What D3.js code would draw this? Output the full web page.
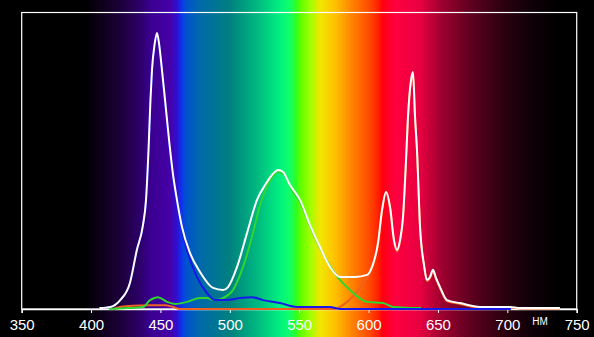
<!DOCTYPE html>
<html>
<head>
<meta charset="utf-8">
<script src="https://cdn.jsdelivr.net/npm/d3@7"></script>
<style>
  html, body { margin: 0; padding: 0; background: #000; }
  svg { display: block; }
</style>
</head>
<body>
<div id="chart"></div>
<script>
// tick labels on the wavelength axis
var tickValues = [350, 400, 450, 500, 550, 600, 650, 700, 750];
var unitLabel = "НМ";

// background spectrum: wavelength (nm) -> colour
var spectrumNm = [334, 396, 406, 421, 435, 443, 457, 462, 465, 468, 479, 500, 522, 536, 543, 548, 551, 558, 565, 576, 587, 601, 607, 610, 619, 637, 652, 673, 695, 716, 738, 763];
var spectrumColor = ["#000000", "#000000", "#0c0018", "#1c0038", "#2c0068", "#3a0090", "#4600a8", "#3010d0", "#1030f0", "#0050d0", "#006aa8", "#00807f", "#00c080", "#00f080", "#10ff68", "#30ff20", "#60ff00", "#a0ff00", "#f0e800", "#ffc000", "#ff8800", "#ff4800", "#ff2000", "#ff0010", "#ff0040", "#e80040", "#a00030", "#600020", "#300010", "#100008", "#000000", "#000000"];

// spectral curves: [wavelength nm, relative intensity]
var whiteCurve = [[406, 0.3], [414, 0.7], [421, 3.0], [428, 8.8], [433, 19.9], [437.4, 28.3], [439.6, 36.8], [441.4, 53.6], [442.8, 70.5], [443.9, 80.6], [445.7, 89.0], [447.5, 93.1], [449.0, 89.5], [451.1, 80.6], [453.3, 70.5], [456.2, 57.0], [459.1, 45.2], [461.9, 36.8], [465.5, 27.7], [471.3, 18.9], [478.5, 12.5], [487.9, 7.1], [495.1, 6.4], [498.7, 7.4], [505.2, 14.2], [512.4, 25.6], [519.6, 36.8], [525.4, 41.8], [530.4, 45.2], [534.8, 46.9], [538.4, 46.2], [543.4, 41.8], [550.6, 36.8], [557.8, 28.3], [565.0, 20.9], [572.2, 14.2], [579.4, 10.8], [590.2, 10.8], [598.9, 11.5], [602.5, 14.2], [606.8, 22.3], [609.7, 33.4], [612.6, 39.5], [615.5, 34.4], [618.3, 23.3], [620.5, 19.9], [622.7, 23.3], [624.8, 31.0], [627.0, 50.3], [628.4, 64.8], [630.6, 77.2], [632.0, 79.9], [633.5, 64.8], [634.9, 53.6], [637.1, 27.7], [640.0, 14.8], [642.1, 9.8], [644.3, 10.8], [646.4, 13.2], [648.6, 10.5], [651.5, 7.4], [656.5, 3.0], [665.9, 2.0], [680.3, 0.7], [701.9, 0.7], [709.1, 0.3], [737.9, 0.3]];
var blueCurve = [[406, 0.3], [414, 0.7], [421, 3.0], [428, 8.8], [433, 19.9], [437.4, 28.3], [439.6, 36.8], [441.4, 53.6], [442.8, 70.5], [443.9, 80.6], [445.7, 88.5], [447.5, 92.5], [449.0, 89.0], [451.1, 80.0], [453.3, 69.5], [456.2, 55.5], [459.1, 43.5], [461.9, 35.0], [464.0, 30.0], [469.1, 19.9], [476.3, 10.8], [483.5, 5.4], [489.3, 3.0], [497.9, 3.0], [507.3, 3.7], [515.9, 4.0], [523.9, 3.0], [536.1, 2.0], [548.4, 0.7], [572.2, 0.7], [579.4, 0], [702.6, 0]];
var greenCurve = [[413, 0], [426, 0.3], [437.4, 0.7], [442.5, 3.0], [448.2, 4.0], [454.7, 2.4], [460.5, 1.7], [469.1, 2.4], [478.5, 3.7], [483.5, 3.7], [489.3, 3.0], [495.1, 3.7], [502.3, 6.4], [509.5, 14.2], [516.7, 25.6], [521.7, 35.1], [527.5, 41.8], [534.8, 46.2], [539.8, 45.2], [544.8, 40.1], [550.6, 36.1], [557.8, 28.0], [565.0, 20.6], [572.2, 14.5], [579.4, 9.8], [586.6, 6.4], [598.9, 2.4], [610.4, 2.0], [617.6, 0.7], [637.8, 0.3]];
var redCurve = [[416, 0], [420.8, 0.7], [426.6, 1.0], [442.5, 1.3], [453.3, 1.3], [459.1, 0.7], [464.0, 0], [575.8, 0], [579.4, 0.7], [584.5, 2.4], [589.5, 4.7], [595.3, 8.1], [601.1, 12.5], [606.8, 21.8], [609.7, 32.8], [612.6, 39.0], [615.5, 33.8], [618.3, 22.8], [620.5, 19.4], [622.7, 22.8], [624.8, 30.5], [627.0, 49.8], [628.4, 64.3], [630.6, 76.7], [632.0, 79.4], [633.5, 64.3], [634.9, 53.1], [637.1, 27.2], [640.0, 14.3], [642.1, 9.4], [644.3, 10.4], [646.4, 12.8], [648.6, 10.1], [651.5, 7.0], [656.5, 2.7], [665.9, 1.7], [680.3, 0.5], [701.9, 0.5], [709.1, 0.2], [737.9, 0.2]];

var width = 594, height = 337;
var plot = { x0: 21.7, x1: 576.7, y0: 12.5, y1: 309 };

var svg = d3.select("#chart").append("svg")
    .attr("width", width)
    .attr("height", height);

var xScale = d3.scaleLinear().domain([350, 750]).range([plot.x0, plot.x1]);
var yScale = d3.scaleLinear().domain([0, 100]).range([plot.y1, plot.y0]);

// spectrum background over the whole picture
var grad = svg.append("defs").append("linearGradient")
    .attr("id", "spectrum")
    .attr("gradientUnits", "userSpaceOnUse")
    .attr("x1", 0).attr("x2", width)
    .attr("y1", 0).attr("y2", 0);
grad.selectAll("stop")
    .data(spectrumNm)
    .enter().append("stop")
    .attr("offset", function (d) { return Math.max(0, Math.min(1, xScale(d) / width)); })
    .attr("stop-color", function (d, i) { return spectrumColor[i]; });

svg.append("rect")
    .attr("width", width).attr("height", height)
    .attr("fill", "url(#spectrum)");

// frame
svg.append("rect")
    .attr("x", plot.x0).attr("y", plot.y0)
    .attr("width", plot.x1 - plot.x0).attr("height", plot.y1 - plot.y0)
    .attr("fill", "none")
    .attr("stroke", "#fff")
    .attr("stroke-width", 1.2);

// axis
var xAxis = d3.axisBottom(xScale)
    .tickValues(tickValues)
    .tickSize(4)
    .tickPadding(6)
    .tickFormat(d3.format("d"));
var gx = svg.append("g")
    .attr("transform", "translate(0," + plot.y1 + ")")
    .call(xAxis);
gx.select(".domain").attr("stroke", "#fff").attr("stroke-width", 1.5);
gx.selectAll(".tick line").attr("stroke", "#fff");
gx.selectAll(".tick text")
    .attr("fill", "#fff")
    .style("font-family", "'Liberation Sans Narrow', 'Liberation Sans', Arial, sans-serif")
    .style("font-size", "15px");

svg.append("text")
    .attr("x", 540).attr("y", 325)
    .attr("text-anchor", "middle")
    .attr("fill", "#fff")
    .style("font-family", "'Liberation Sans', Arial, sans-serif")
    .style("font-size", "10px")
    .text(unitLabel);

// curves
var line = d3.line()
    .x(function (d) { return xScale(d[0]); })
    .y(function (d) { return yScale(d[1]); })
    .curve(d3.curveMonotoneX);

var series = [
    { data: redCurve, color: "#f06020" },
    { data: greenCurve, color: "#2ed62e" },
    { data: blueCurve, color: "#1818e8" },
    { data: whiteCurve, color: "#ffffff" }
];

svg.append("g").selectAll("path")
    .data(series)
    .enter().append("path")
    .attr("d", function (d) { return line(d.data); })
    .attr("fill", "none")
    .attr("stroke", function (d) { return d.color; })
    .attr("stroke-width", 2)
    .attr("stroke-linejoin", "round");
</script>
</body>
</html>
